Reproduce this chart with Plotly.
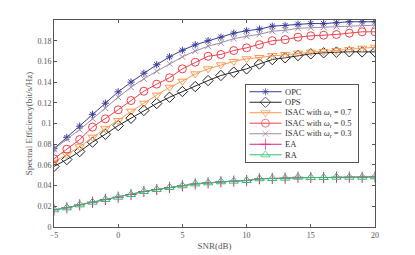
import plotly.graph_objects as go

snr = list(range(-5, 21))

opc = [0.0757, 0.0865, 0.0974, 0.1089, 0.1196, 0.1306, 0.1400, 0.1486, 0.1568, 0.1644,
       0.1708, 0.1760, 0.1800, 0.1834, 0.1873, 0.1896, 0.1912, 0.1940, 0.1947, 0.1960,
       0.1966, 0.1965, 0.1973, 0.1983, 0.1983, 0.1983]
ops = [0.0585, 0.0652, 0.0729, 0.0820, 0.0896, 0.0980, 0.1051, 0.1126, 0.1193, 0.1254,
       0.1309, 0.1357, 0.1415, 0.1464, 0.1496, 0.1528, 0.1575, 0.1618, 0.1635, 0.1657,
       0.1673, 0.1683, 0.1690, 0.1693, 0.1692, 0.1692]
isac07 = [0.0626, 0.0700, 0.0775, 0.0868, 0.0950, 0.1029, 0.1119, 0.1196, 0.1274, 0.1350,
          0.1409, 0.1480, 0.1528, 0.1567, 0.1600, 0.1625, 0.1638, 0.1657, 0.1667, 0.1680,
          0.1690, 0.1696, 0.1705, 0.1715, 0.1728, 0.1737]
isac05 = [0.0659, 0.0752, 0.0845, 0.0965, 0.1045, 0.1132, 0.1222, 0.1312, 0.1380, 0.1442,
          0.1528, 0.1592, 0.1650, 0.1667, 0.1705, 0.1731, 0.1762, 0.1800, 0.1810, 0.1834,
          0.1847, 0.1853, 0.1860, 0.1873, 0.1886, 0.1886]
isac03 = [0.0750, 0.0850, 0.0940, 0.1045, 0.1148, 0.1254, 0.1350, 0.1432, 0.1505, 0.1577,
          0.1644, 0.1700, 0.1747, 0.1780, 0.1820, 0.1843, 0.1862, 0.1892, 0.1900, 0.1920,
          0.1925, 0.1930, 0.1937, 0.1947, 0.1950, 0.1950]
ea = [0.0166, 0.0186, 0.0214, 0.0240, 0.0266, 0.0288, 0.0314, 0.0343, 0.0362, 0.0382,
      0.0398, 0.0417, 0.0427, 0.0437, 0.0443, 0.0449, 0.0466, 0.0469, 0.0472, 0.0481,
      0.0478, 0.0478, 0.0481, 0.0481, 0.0481, 0.0485]
ra = [0.0166, 0.0186, 0.0214, 0.0240, 0.0266, 0.0288, 0.0314, 0.0343, 0.0362, 0.0382,
      0.0398, 0.0417, 0.0427, 0.0437, 0.0443, 0.0449, 0.0466, 0.0469, 0.0472, 0.0481,
      0.0478, 0.0478, 0.0481, 0.0481, 0.0481, 0.0485]

yticks = [0, 0.02, 0.04, 0.06, 0.08, 0.1, 0.12, 0.14, 0.16, 0.18]
ytick_text = ["0", "0.02", "0.04", "0.06", "0.08", "0.1", "0.12", "0.14", "0.16", "0.18"]
xticks = [-5, 0, 5, 10, 15, 20]

series = [
    ("OPC", opc, "#3a3d9a", "asterisk-open", 6),
    ("OPS", ops, "#262626", "diamond-open", 8),
    ("ISAC with <i>ω</i><sub>r</sub> = 0.7", isac07, "#ff9a4f", "triangle-down-open", 8),
    ("ISAC with <i>ω</i><sub>r</sub> = 0.5", isac05, "#f0404a", "circle-open", 8),
    ("ISAC with <i>ω</i><sub>r</sub> = 0.3", isac03, "#a08aa6", "x-thin-open", 6),
    ("EA", ea, "#e0208c", "cross-thin-open", 8),
    ("RA", ra, "#2fc070", "triangle-up-open", 8),
]

# legend box layout (in its own [0,1] axes)
LEG_X0, LEG_X1, LEG_XM, LEG_TX = 0.034, 0.321, 0.177, 0.335
leg_rows = [0.915, 0.778, 0.642, 0.505, 0.368, 0.231, 0.094]

fig = go.Figure()
for name, vals, color, sym, size in series:
    fig.add_trace(go.Scatter(
        x=snr, y=vals, name=name, mode="lines+markers", showlegend=False,
        line=dict(color=color, width=1),
        marker=dict(symbol=sym, size=size, color=color, line=dict(color=color, width=1)),
    ))

for (name, vals, color, sym, size), ry in zip(series, leg_rows):
    fig.add_trace(go.Scatter(
        x=[LEG_X0, LEG_XM, LEG_X1], y=[ry, ry, ry], mode="lines+markers",
        xaxis="x2", yaxis="y2", showlegend=False, hoverinfo="skip",
        line=dict(color=color, width=1),
        marker=dict(symbol=sym, size=[0, size, 0], color=color, line=dict(color=color, width=1)),
    ))
    fig.add_annotation(x=LEG_TX, y=ry, xref="x2", yref="y2", text=name, showarrow=False,
                       xanchor="left", yanchor="middle",
                       font=dict(family="Liberation Serif", size=8.5, color="#333333"))

axis_common = dict(
    showgrid=False, zeroline=False, showline=True, linecolor="#555555", linewidth=1,
    mirror="ticks", ticks="inside", ticklen=3, tickcolor="#555555", automargin=False,
    tickfont=dict(family="Liberation Serif", size=8, color="#555555"),
)
fig.update_layout(
    xaxis=dict(range=[-5, 20], tickvals=xticks, domain=[0, 1],
               title=dict(text="SNR(dB)", font=dict(family="Liberation Serif", size=9, color="#555555"), standoff=4),
               **axis_common),
    yaxis=dict(range=[0, 0.2], tickvals=yticks, ticktext=ytick_text, domain=[0, 1],
               title=dict(text="Spectral Efficiency(bit/s/Hz)", font=dict(family="Liberation Serif", size=9, color="#555555"), standoff=3),
               **axis_common),
    xaxis2=dict(domain=[0.597, 0.946], range=[0, 1], anchor="y2", showgrid=False, zeroline=False,
                showticklabels=False, ticks="", showline=True, mirror=True, linecolor="#555555",
                linewidth=1, fixedrange=True),
    yaxis2=dict(domain=[0.314, 0.685], range=[0, 1], anchor="x2", showgrid=False, zeroline=False,
                showticklabels=False, ticks="", showline=True, mirror=True, linecolor="#555555",
                linewidth=1, fixedrange=True),
    width=407, height=247,
    margin=dict(l=46, r=40, t=12, b=28),
    paper_bgcolor="white", plot_bgcolor="white",
    showlegend=False,
)

fig.write_html("out.html")
